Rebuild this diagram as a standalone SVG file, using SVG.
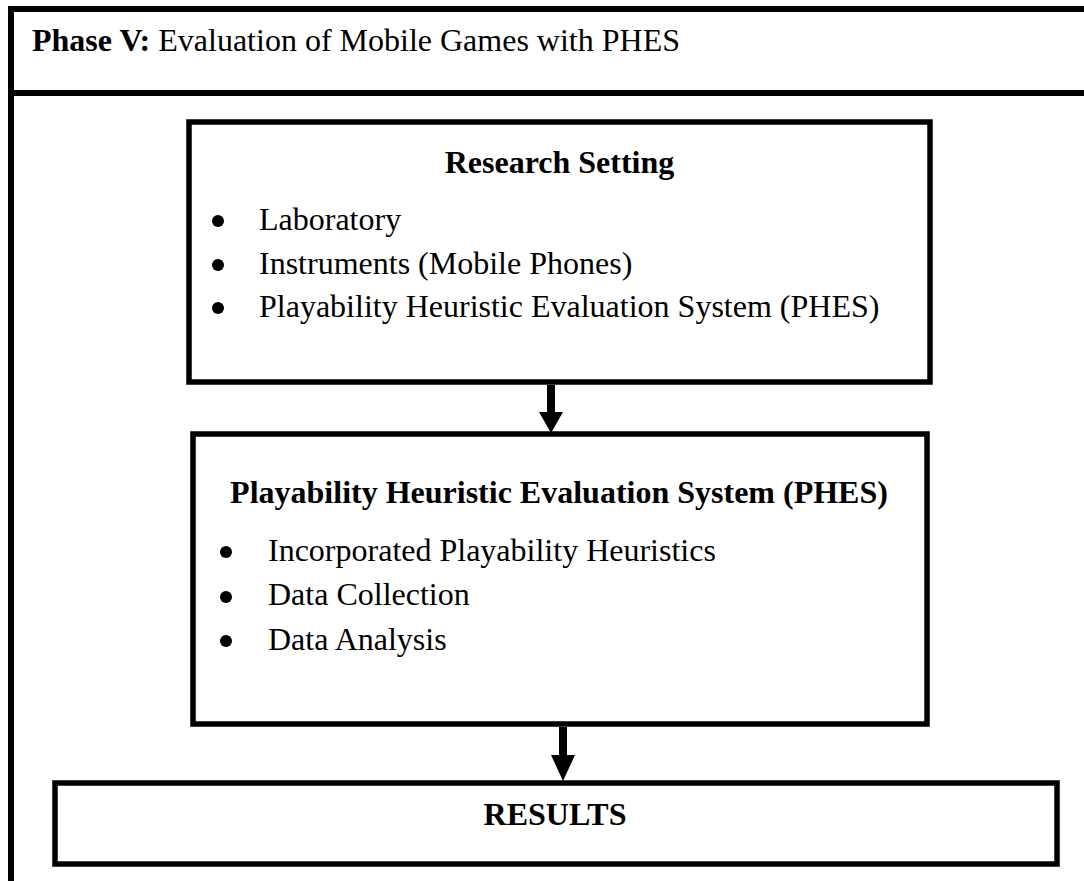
<svg xmlns="http://www.w3.org/2000/svg" width="1084" height="881" viewBox="0 0 1084 881">
  <style>
    .frame { fill: none; stroke: #000; stroke-width: 6; }
    .box { fill: #fff; stroke: #000; stroke-width: 5.5; }
    .txt { font-family: "Liberation Serif", "Times New Roman", serif; font-size: 32px; fill: #000; }
    .b { font-weight: bold; }
    .dot { fill: #000; }
    .arrow { fill: #000; }
  </style>
  <rect x="0" y="0" width="1084" height="881" fill="#fff"/>

  <!-- outer phase frame with header band -->
  <g id="phase-frame">
    <rect class="frame" x="11" y="9" width="1100" height="900"/>
    <line class="frame" x1="11" y1="93" x2="1084" y2="93"/>
    <text class="txt" x="32" y="51" font-size="31"><tspan class="b">Phase V:</tspan> Evaluation of Mobile Games with PHES</text>
  </g>

  <!-- Research Setting -->
  <g id="research-setting">
    <rect class="box" x="189" y="122" width="741" height="260"/>
    <text class="txt b" x="559.5" y="173" text-anchor="middle">Research Setting</text>
    <circle class="dot" cx="218" cy="221" r="6"/>
    <text class="txt" x="259" y="230">Laboratory</text>
    <circle class="dot" cx="218" cy="265" r="6"/>
    <text class="txt" x="259" y="274">Instruments (Mobile Phones)</text>
    <circle class="dot" cx="218" cy="308" r="6"/>
    <text class="txt" x="259" y="317">Playability Heuristic Evaluation System (PHES)</text>
  </g>

  <!-- PHES -->
  <g id="phes">
    <rect class="box" x="193" y="434" width="734" height="290"/>
    <text class="txt b" x="559" y="503" text-anchor="middle">Playability Heuristic Evaluation System (PHES)</text>
    <circle class="dot" cx="226" cy="552" r="6"/>
    <text class="txt" x="268" y="561">Incorporated Playability Heuristics</text>
    <circle class="dot" cx="226" cy="597" r="6"/>
    <text class="txt" x="268" y="605">Data Collection</text>
    <circle class="dot" cx="226" cy="641" r="6"/>
    <text class="txt" x="268" y="650">Data Analysis</text>
  </g>

  <!-- Results -->
  <g id="results">
    <rect class="box" x="55" y="783" width="1002" height="81"/>
    <text class="txt b" x="555" y="825" text-anchor="middle">RESULTS</text>
  </g>

  <!-- connectors -->
  <g id="connectors">
    <path class="arrow" d="M547,385 H555 V412 H563 L551,433 L539,412 H547 Z"/>
    <path class="arrow" d="M559,727 H567 V755 H575 L563,781 L551,755 H559 Z"/>
  </g>
</svg>
